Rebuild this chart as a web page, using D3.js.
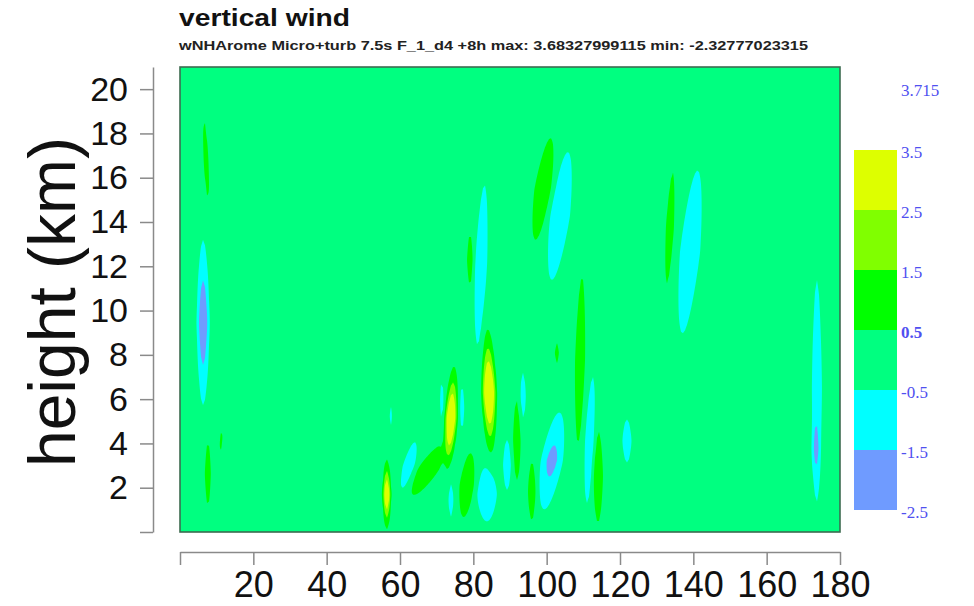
<!DOCTYPE html>
<html><head><meta charset="utf-8">
<script src="https://cdn.jsdelivr.net/npm/d3@7"></script>
<style>body{margin:0;background:#fff;} svg{display:block}</style>
</head><body>
<svg id="chart" width="974" height="606"></svg>
<script>
// ---------- data ----------
const title = "vertical wind";
const subtitle = "wNHArome Micro+turb 7.5s F_1_d4 +8h max: 3.68327999115 min: -2.32777023315";
const yLabel = "height (km)";
const xDomain = [0, 180];
const yDomain = [0, 21];
const xTicks = [0, 20, 40, 60, 80, 100, 120, 140, 160, 180];
const yTicks = [0, 2, 4, 6, 8, 10, 12, 14, 16, 18, 20];
const levels = [-2.5, -1.5, -0.5, 0.5, 1.5, 2.5, 3.5];
const levelLabels = ["-2.5", "-1.5", "-0.5", "0.5", "1.5", "2.5", "3.5"];
const bandColors = ["#6f9bff", "#00ffff", "#00ff80", "#00ff00", "#80ff00", "#ddff00"];
const maxLabel = "3.715";
// wind cells: [x, height (km), peak w (m/s), half-height (km), half-width (x units), lean of top end (x units)]
const cells = [
  [7.1, 16.8, 1.0, 1.81, 0.68, -0.55],
  [6.3, 9.46, -2.2, 3.73, 1.77, 0],
  [7.6, 2.64, 1.0, 1.42, 0.82, 0],
  [11.2, 4.11, 0.8, 0.5, 0.41, 0.3],
  [173.7, 6.46, -1.1, 4.92, 1.36, 0],
  [173.4, 3.75, -1.1, 1.13, 0.95, 0],
  [99.0, 15.49, 1.2, 2.30, 2.32, 2.05],
  [103.6, 14.27, -1.3, 2.89, 2.73, 2.18],
  [133.6, 13.73, 1.0, 2.51, 1.09, 0.82],
  [139.1, 12.65, -1.3, 3.68, 2.73, 2.05],
  [82.1, 12.06, -1.2, 3.61, 1.64, 0.95],
  [79.1, 12.29, 0.9, 1.13, 0.82, 0],
  [84.3, 6.30, 4.2, 2.87, 2.18, -0.41],
  [102.8, 8.08, 0.8, 0.45, 0.55, 0],
  [73.9, 5.15, 4.0, 2.33, 1.91, 0.82],
  [67.6, 2.80, 1.1, 1.13, 3.0, 3.82],
  [76.9, 5.60, -0.8, 0.97, 0.68, 0],
  [71.4, 5.92, -0.7, 0.84, 0.55, 0],
  [57.5, 5.24, -0.7, 0.41, 0.41, 0],
  [62.4, 2.98, -0.9, 1.08, 1.64, 1.64],
  [56.4, 1.70, 3.6, 1.58, 1.23, 0],
  [78.3, 2.12, 1.1, 1.45, 2.05, 0.95],
  [83.7, 1.72, -1.2, 1.24, 2.73, 0],
  [73.9, 1.45, -0.8, 0.77, 0.68, 0],
  [89.2, 3.03, -0.9, 1.13, 1.09, 0],
  [91.9, 4.16, 1.0, 1.81, 1.09, 0],
  [93.5, 6.14, -0.8, 1.06, 0.82, 0],
  [96.0, 1.81, 1.0, 1.33, 1.09, 0],
  [101.4, 3.21, -1.7, 2.19, 3.0, 2.05],
  [109.1, 7.77, 1.0, 3.75, 1.36, 0.55],
  [111.8, 4.16, -1.1, 2.85, 1.36, 0.82],
  [114.0, 2.53, 1.1, 2.10, 1.36, 0],
  [121.9, 4.11, -0.9, 0.97, 1.23, 0]
];

// ---------- layout ----------
const svg = d3.select("#chart");
const plot = {left: 180, right: 840, top: 67, bottom: 532};
const x = d3.scaleLinear().domain(xDomain).range([plot.left, plot.right]);
const y = d3.scaleLinear().domain(yDomain).range([plot.bottom, plot.top]);

// ---------- field ----------
const nx = 330, ny = 232, q = 3;
const gx = d3.scaleLinear().domain([0, nx]).range(xDomain);
const gy = d3.scaleLinear().domain([0, ny]).range([yDomain[1], yDomain[0]]);
const values = new Float64Array(nx * ny);
for (let j = 0; j < ny; j++) {
  const yd = gy(j + 0.5);
  for (let i = 0; i < nx; i++) {
    const xd = gx(i + 0.5);
    let v = 0;
    for (const [cx, cy, a, hh, hw, lean] of cells) {
      const dy = (yd - cy) / hh;
      if (Math.abs(dy) > 3) continue;
      const dx = (xd - (cx + lean * dy)) / hw;
      const r2 = dx * dx + Math.pow(Math.abs(dy), 1.35);
      if (r2 > 9) continue;
      v += a * Math.pow(1 / (2 * Math.abs(a)), Math.pow(r2, q / 2));
    }
    values[j * nx + i] = v;
  }
}
const contours = d3.contours().size([nx, ny]).thresholds(levels.slice(1, 6))(values);
const path = d3.geoPath(d3.geoTransform({
  point: function(px, py) { this.stream.point(x(gx(px)), y(gy(py))); }
}));

svg.append("clipPath").attr("id", "clip").append("rect")
  .attr("x", plot.left).attr("y", plot.top)
  .attr("width", plot.right - plot.left).attr("height", plot.bottom - plot.top);
const g = svg.append("g").attr("clip-path", "url(#clip)");
g.append("rect").attr("x", plot.left).attr("y", plot.top)
  .attr("width", plot.right - plot.left).attr("height", plot.bottom - plot.top)
  .attr("fill", bandColors[0]);
g.selectAll("path.band").data(contours).join("path")
  .attr("class", "band")
  .attr("d", path)
  .attr("fill", (d, i) => bandColors[i + 1]);
svg.append("rect").attr("x", plot.left).attr("y", plot.top)
  .attr("width", plot.right - plot.left).attr("height", plot.bottom - plot.top)
  .attr("fill", "none").attr("stroke", "#3d6b50").attr("stroke-width", 1.6);

// ---------- axes ----------
const tickFont = "'Liberation Sans', Arial, sans-serif";
const yAxis = d3.axisLeft(y).tickValues(yTicks).tickSize(13).tickSizeOuter(0).tickPadding(12)
  .tickFormat(d => d === 0 ? "" : d);
const ya = svg.append("g").attr("transform", "translate(153,0)").call(yAxis);
const xAxis = d3.axisBottom(x).tickValues(xTicks).tickSize(13).tickSizeOuter(0).tickPadding(6)
  .tickFormat(d => d === 0 ? "" : d);
const xa = svg.append("g").attr("transform", "translate(0,552)").call(xAxis);
[ya, xa].forEach(a => {
  a.selectAll("path, line").attr("stroke", "#8a8a8a").attr("stroke-width", 1.5);
  a.selectAll("text").attr("font-family", tickFont).attr("font-size", 34).attr("fill", "#111");
});
xa.selectAll("text").attr("dy", "0.71em").attr("font-size", 36);

svg.append("text")
  .attr("transform", "translate(75,302) rotate(-90)")
  .attr("text-anchor", "middle")
  .attr("font-family", tickFont).attr("font-size", 66).attr("fill", "#111")
  .text(yLabel);

// ---------- titles ----------
svg.append("text").attr("x", 179).attr("y", 26)
  .attr("font-family", tickFont).attr("font-weight", "bold").attr("font-size", 23)
  .attr("textLength", 171).attr("lengthAdjust", "spacingAndGlyphs")
  .attr("fill", "#111").text(title);
svg.append("text").attr("x", 179).attr("y", 50)
  .attr("font-family", tickFont).attr("font-weight", "bold").attr("font-size", 12)
  .attr("textLength", 629).attr("lengthAdjust", "spacingAndGlyphs")
  .attr("fill", "#222").text(subtitle);

// ---------- colour bar ----------
const cb = d3.scaleLinear().domain([levels[0], levels[levels.length - 1]]).range([510, 150]);
const cbg = svg.append("g");
cbg.selectAll("rect").data(bandColors).join("rect")
  .attr("x", 854).attr("width", 43)
  .attr("y", (d, i) => cb(levels[i + 1]))
  .attr("height", (d, i) => cb(levels[i]) - cb(levels[i + 1]))
  .attr("fill", d => d);
cbg.selectAll("text").data(levelLabels).join("text")
  .attr("x", 901).attr("y", (d, i) => cb(levels[i]) + 2)
  .attr("dy", "0.35em")
  .attr("font-family", "'Liberation Serif', 'Times New Roman', serif")
  .attr("font-size", 17)
  .attr("font-weight", d => d === "0.5" ? "bold" : "normal")
  .attr("fill", "#5050f0").text(d => d);
svg.append("text").attr("x", 901).attr("y", 90).attr("dy", "0.35em")
  .attr("font-family", "'Liberation Serif', 'Times New Roman', serif")
  .attr("font-size", 17).attr("fill", "#5050f0").text(maxLabel);
</script>
</body></html>
